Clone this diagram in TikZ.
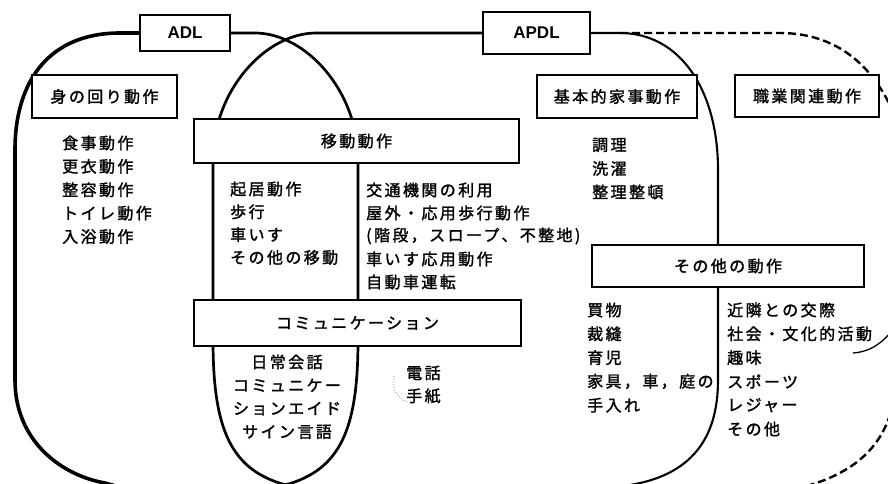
\documentclass[tikz,border=0pt]{standalone}
\usepackage{fontspec}
\usetikzlibrary{backgrounds}
\setmainfont{Liberation Sans}
\newfontfamily\jp{Noto Sans CJK JP}[LetterSpace=15, FakeBold=1.6]
\begin{document}
\begin{tikzpicture}[x=1pt,y=-1pt,
  curveA/.style={line width=3.6pt},
  curveB/.style={line width=2.7pt},
  curveC/.style={line width=2.1pt},
  dashline/.style={line width=2.4pt, dash pattern=on 8pt off 4pt},
  box/.style={draw, line width=1.6pt, fill=white, inner sep=0pt, font=\jp\fontsize{16}{18}\selectfont},
  topbox/.style={draw, line width=1.6pt, fill=white, inner sep=0pt, font=\bfseries\fontsize{17}{19}\selectfont},
  item/.style={inner sep=0pt, font=\jp\fontsize{16}{18}\selectfont}]
\useasboundingbox (0,0) rectangle (888,483);
% boxes
\node[topbox, minimum width=90pt, minimum height=36pt] (adl) at (185,33) {ADL};
\node[topbox, minimum width=107pt, minimum height=42pt] (apdl) at (536.5,33) {APDL};
\node[box, minimum width=145pt, minimum height=43pt] (mi) at (104.5,96.5) {身の回り動作};
\node[box, minimum width=325pt, minimum height=44pt] (ido) at (356.5,141) {移動動作};
\node[box, minimum width=327pt, minimum height=46pt] (comm) at (357.5,323) {コミュニケーション};
\node[box, minimum width=160pt, minimum height=43pt] (kaji) at (617,96.5) {基本的家事動作};
\node[box, minimum width=144pt, minimum height=42pt] (shoku) at (807,96) {職業関連動作};
\node[box, minimum width=272pt, minimum height=42pt] (sono) at (728,266) {その他の動作};
% lists
\foreach \t [count=\i] in {食事動作,更衣動作,整容動作,トイレ動作,入浴動作}
  \node[item, anchor=west] (a\i) at (62,{143+23.4*(\i-1)}) {\t};
\foreach \t [count=\i] in {起居動作,歩行,車いす,その他の移動}
  \node[item, anchor=west] (b\i) at (230,{189+22.8*(\i-1)}) {\t};
\foreach \t [count=\i] in {交通機関の利用,屋外・応用歩行動作,(階段，スロープ、不整地),車いす応用動作,自動車運転}
  \node[item, anchor=west] (c\i) at (366,{190+23*(\i-1)}) {\t};
\foreach \t [count=\i] in {日常会話,コミュニケー,ションエイド,サイン言語}
  \node[item] (d\i) at (287,{362+23.3*(\i-1)}) {\t};
\foreach \t [count=\i] in {電話,手紙}
  \node[item, anchor=west] (e\i) at (406,{373+23*(\i-1)}) {\t};
\foreach \t [count=\i] in {調理,洗濯,整理整頓}
  \node[item, anchor=west] (f\i) at (592,{145+23.5*(\i-1)}) {\t};
\foreach \t [count=\i] in {買物,裁縫,育児,家具，車，庭の,手入れ}
  \node[item, anchor=west] (g\i) at (587,{310+23.8*(\i-1)}) {\t};
\foreach \t [count=\i] in {近隣との交際,社会・文化的活動,趣味,スポーツ,レジャー,その他}
  \node[item, anchor=west] (h\i) at (727,{310+23.8*(\i-1)}) {\t};
% outlines, behind the boxes
\begin{scope}[on background layer]
\clip (0,0) rectangle (888,483);
\draw[curveA] (adl.west) -- (120,33) .. controls (50,33) and (15,80) .. (15,150)
   -- (15,380) .. controls (15,440) and (60,475) .. (105,483) -- (130,490);
\draw[curveB] (adl.east) -- (255,33) .. controls (305,33) and (358,90) .. (358,160)
   -- (358,340) .. controls (358,430) and (340,470) .. (285,485);
\draw[curveB] (apdl.west) -- (316,33) .. controls (266,33) and (213,90) .. (213,160)
   -- (213,340) .. controls (213,430) and (231,470) .. (286,485);
\draw[curveC] (apdl.east) -- (620,33) .. controls (680,33) and (718,90) .. (718,170)
   -- (718,380) .. controls (718,440) and (690,475) .. (630,485);
\coordinate (dstart) at (620,33);
\draw[dashline] (dstart) -- (780,33) .. controls (840,33) and (880,70) .. (900,130);
\draw[dashline] (895,390) .. controls (890,440) and (860,470) .. (810,485);
\draw[line width=1.3pt] (853,353) .. controls (868,352) and (880,345) .. (890,333);
\draw[gray, line width=0.8pt, dotted] (394,376) .. controls (390,388) and (398,398) .. (407,402);
\end{scope}
\end{tikzpicture}
\end{document}
